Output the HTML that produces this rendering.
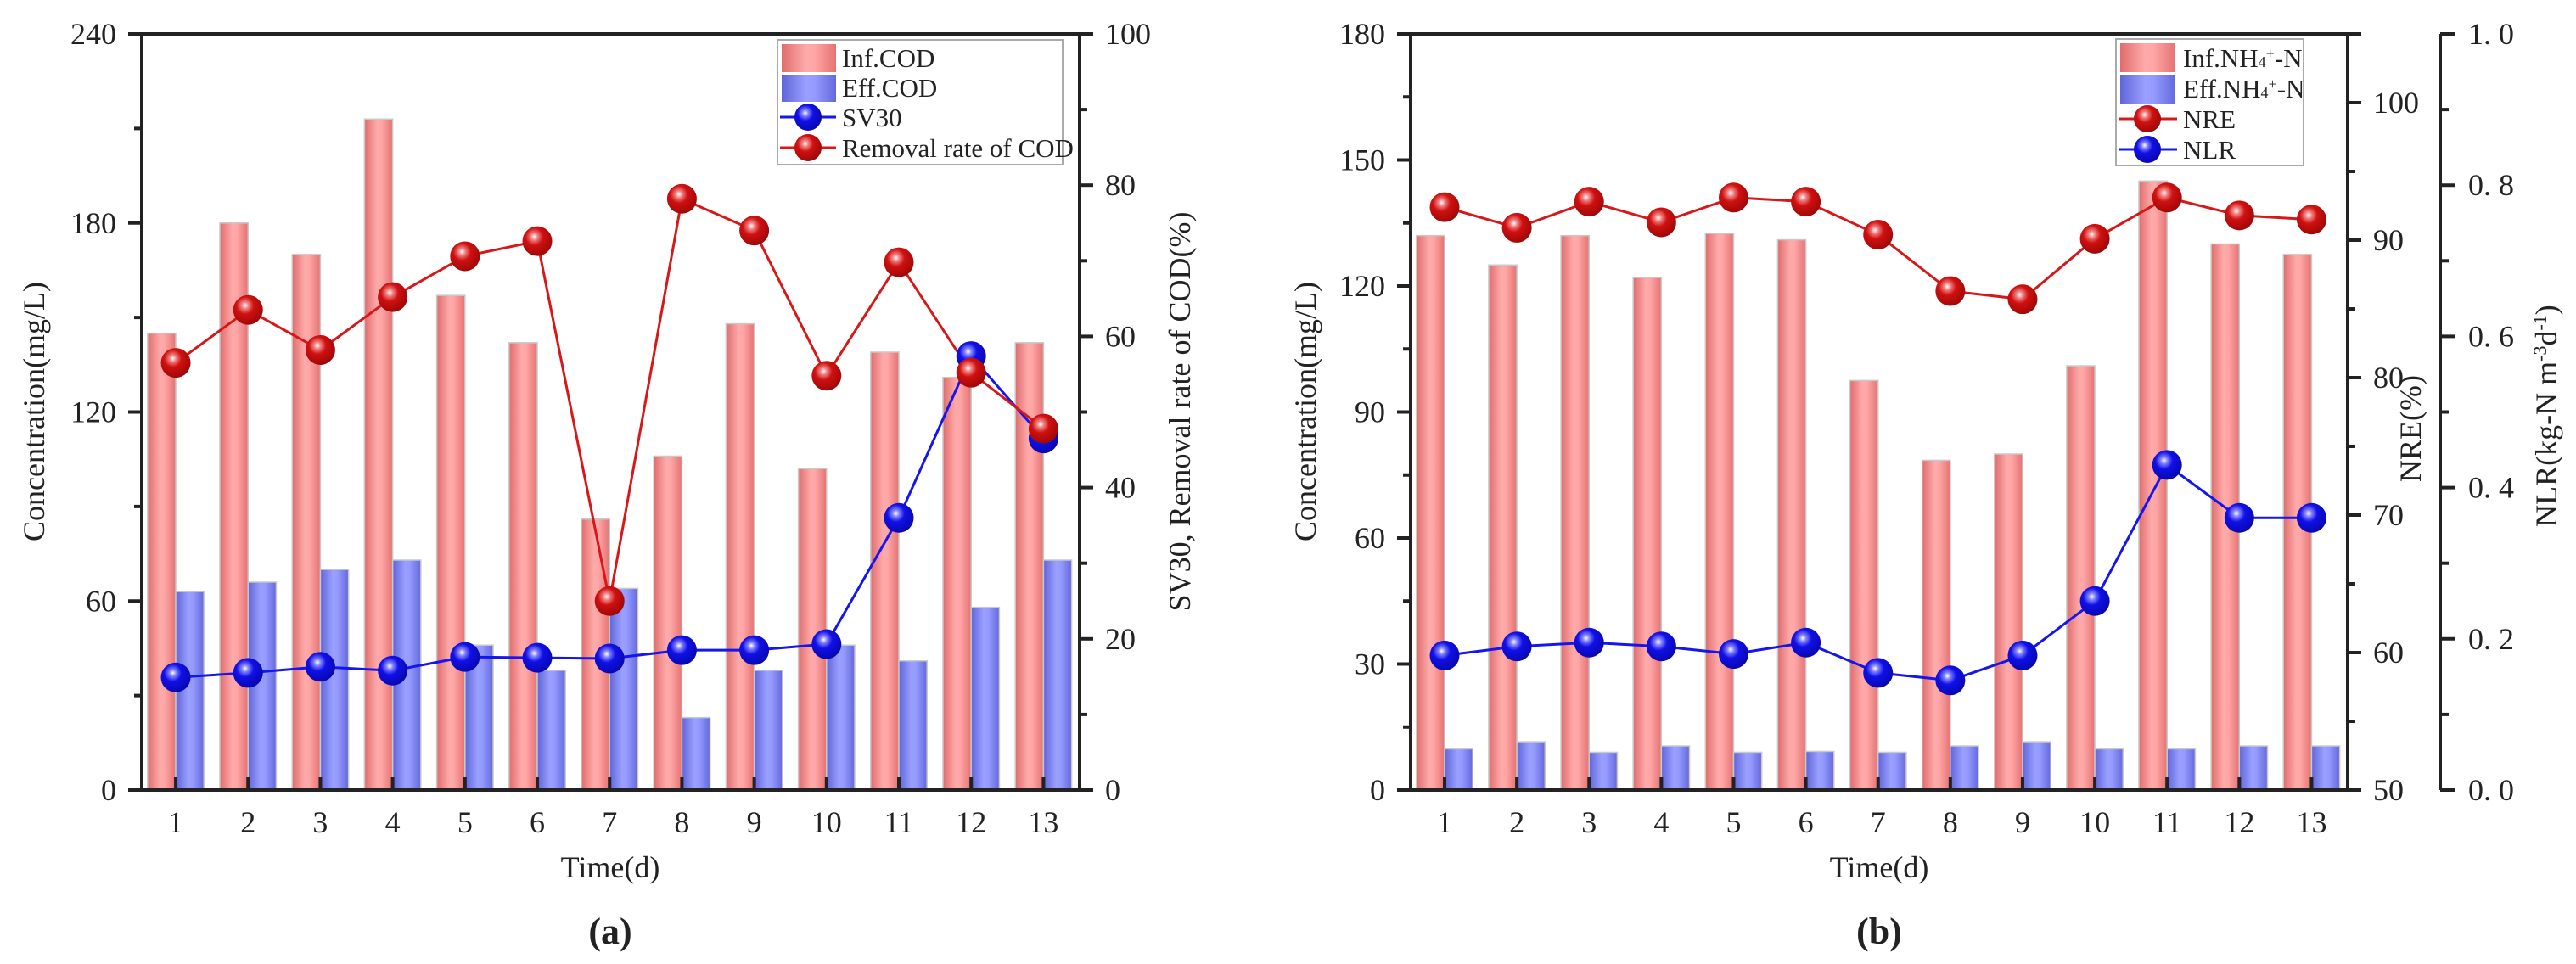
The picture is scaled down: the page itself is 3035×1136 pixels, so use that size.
<!DOCTYPE html>
<html><head><meta charset="utf-8"><style>
html,body{margin:0;padding:0;background:#fff}
svg{display:block}
text{font-family:"Liberation Serif",serif;fill:#222}
</style></head><body>
<svg id="c" width="3035" height="1136" xmlns="http://www.w3.org/2000/svg">
<defs>
<linearGradient id="gr" x1="0" x2="1" y1="0" y2="0"><stop offset="0" stop-color="#e06c6c"/><stop offset="0.45" stop-color="#ffaaaa"/><stop offset="0.6" stop-color="#ffa6a6"/><stop offset="1" stop-color="#e57272"/></linearGradient>
<linearGradient id="gb" x1="0" x2="1" y1="0" y2="0"><stop offset="0" stop-color="#5f65d8"/><stop offset="0.45" stop-color="#9aa0ff"/><stop offset="0.6" stop-color="#959bff"/><stop offset="1" stop-color="#6469dc"/></linearGradient>
<radialGradient id="sr" cx="0.4" cy="0.35" r="0.65"><stop offset="0" stop-color="#fff"/><stop offset="0.18" stop-color="#f08080"/><stop offset="0.45" stop-color="#d01010"/><stop offset="1" stop-color="#a00808"/></radialGradient>
<radialGradient id="sb" cx="0.4" cy="0.35" r="0.65"><stop offset="0" stop-color="#fff"/><stop offset="0.18" stop-color="#8080ff"/><stop offset="0.45" stop-color="#1010e8"/><stop offset="1" stop-color="#0808b0"/></radialGradient>
</defs>
</svg>
<script>
// ---- data panel (a)
const days = [1,2,3,4,5,6,7,8,9,10,11,12,13];
const infCOD = [145,180,170,213,157,142,86,106,148,102,139,131,142];
const effCOD = [63,66,70,73,46,38,64,23,38,46,41,58,73];
const sv30 = [14.9,15.5,16.3,15.8,17.6,17.5,17.4,18.5,18.5,19.3,36,57.4,46.5];
const removalCOD = [56.5,63.5,58.2,65.2,70.6,72.6,25,78.2,74,54.8,69.8,55.2,47.8];
// ---- data panel (b)
const infNH = [132,125,132,122,132.5,131,97.5,78.5,80,101,145,130,127.5];
const effNH = [9.8,11.5,9,10.5,9,9.2,9,10.5,11.5,9.8,9.8,10.5,10.5];
const nre = [92.4,90.9,92.8,91.3,93.1,92.8,90.4,86.3,85.7,90.1,93.1,91.8,91.5];
const nlr = [0.178,0.19,0.195,0.19,0.18,0.195,0.155,0.145,0.178,0.25,0.43,0.36,0.36];
const ticksA = [0,60,120,180,240];
const ticksARight = [0,20,40,60,80,100];
const ticksB = [0,30,60,90,120,150,180];
const ticksNRE = [50,60,70,80,90,100];
const ticksNLR = [0,0.2,0.4,0.6,0.8,1.0];

const svg = document.getElementById('c');
const NS = 'http://www.w3.org/2000/svg';
function mk(tag, attrs, parent){const e=document.createElementNS(NS,tag);for(const k in attrs)e.setAttribute(k,attrs[k]);(parent||svg).appendChild(e);return e;}
function txt(s,attrs,parent){const e=mk('text',attrs,parent);e.textContent=s;return e;}

const T=40,B=931,X0=0.53,X1=13.5,BW=0.39;
function lin(d0,d1,r0,r1){return v=>r0+(v-d0)/(d1-d0)*(r1-r0);}

function panel(o){
  const g=mk('g',{});
  
  
  const x=lin(X0,X1,o.L,o.R), yl=lin(o.lmin,o.lmax,B,T), yr=lin(o.rmin,o.rmax,B,T);
  // bars
  o.bar1.forEach((v,i)=>{const r=mk('rect',{x:x(days[i])-BW*(x(1)-x(0)),y:yl(v),width:BW*(x(1)-x(0)),height:B-yl(v),fill:'url(#gr)',stroke:'#c9c9c9','stroke-width':1.5},g);
    
    });
  o.bar2.forEach((v,i)=>{const r=mk('rect',{x:x(days[i]),y:yl(v),width:BW*(x(1)-x(0)),height:B-yl(v),fill:'url(#gb)',stroke:'#c9c9c9','stroke-width':1.5},g);
    
    });
  // lines
  o.lines.forEach(ln=>{
    const sc=ln.axis==='r'?yr:ln.ys;
    const p=mk('polyline',{points:ln.data.map((v,i)=>x(days[i])+','+sc(v)).join(' '),fill:'none',stroke:ln.color,'stroke-width':3},g);
    
    
  });
  o.lines.forEach(ln=>{
    const sc=ln.axis==='r'?yr:ln.ys;
    ln.data.forEach((v,i)=>{const c=mk('circle',{cx:x(days[i]),cy:sc(v),r:17.5,fill:ln.grad},g);
      
      });
  });
  // frame
  const ax=mk('g',{stroke:'#222','stroke-width':4,fill:'none'},g);
  
  
  mk('line',{x1:o.L-16,y1:T,x2:o.R+16,y2:T},ax);
  mk('line',{x1:o.L-16,y1:B,x2:o.R+16,y2:B},ax);
  mk('line',{x1:o.L,y1:T,x2:o.L,y2:B},ax);
  mk('line',{x1:o.R,y1:T,x2:o.R,y2:B},ax);
  days.forEach(d=>{mk('line',{x1:x(d),y1:B,x2:x(d),y2:B-15},ax);
    const t=txt(String(d),{x:x(d),y:B+50,'font-size':36,'text-anchor':'middle'},g);
    
    });
  // left ticks
  o.lt.forEach((v,i)=>{mk('line',{x1:o.L-16,y1:yl(v),x2:o.L,y2:yl(v)},ax);
    if(i<o.lt.length-1){const m=(v+o.lt[i+1])/2;mk('line',{x1:o.L-9,y1:yl(m),x2:o.L,y2:yl(m)},ax);}
    const t=txt(String(v),{x:o.L-30,y:yl(v)+12,'font-size':36,'text-anchor':'end'},g);
    
    });
  o.rt.forEach((v,i)=>{mk('line',{x1:o.R,y1:yr(v),x2:o.R+16,y2:yr(v)},ax);
    if(i<o.rt.length-1){const m=(v+o.rt[i+1])/2;mk('line',{x1:o.R,y1:yr(m),x2:o.R+9,y2:yr(m)},ax);}
    const t=txt(String(v),{x:o.R+30,y:yr(v)+12,'font-size':36},g);
    
    });
  return {x,yl,yr,g};
}

const A=panel({name:'panel-a',L:167,R:1272,lmin:0,lmax:240,rmin:0,rmax:100,lt:ticksA,rt:ticksARight,bar1:infCOD,bar2:effCOD,
  lines:[{name:'sv30',data:sv30,axis:'r',color:'#1515ee',grad:'url(#sb)'},{name:'removal-rate',data:removalCOD,axis:'r',color:'#d81818',grad:'url(#sr)'}]});
const ynlr=lin(0,1,B,T);
const Bp=panel({name:'panel-b',L:1662,R:2766,lmin:0,lmax:180,rmin:50,rmax:105,lt:ticksB,rt:ticksNRE,bar1:infNH,bar2:effNH,
  lines:[{name:'nre',data:nre,axis:'r',color:'#d81818',grad:'url(#sr)'},{name:'nlr',data:nlr,axis:'n',ys:ynlr,color:'#1515ee',grad:'url(#sb)'}]});

// NLR offset axis
const nax=mk('g',{stroke:'#222','stroke-width':4});


mk('line',{x1:2875,y1:T,x2:2875,y2:B},nax);
ticksNLR.forEach((v,i)=>{mk('line',{x1:2875,y1:ynlr(v),x2:2893,y2:ynlr(v)},nax);
  if(i<ticksNLR.length-1){mk('line',{x1:2875,y1:ynlr(v+0.1),x2:2885,y2:ynlr(v+0.1)},nax);}
  const t=txt(v.toFixed(1).replace('.','. '),{x:2908,y:ynlr(v)+12,'font-size':36});
  
  });
</script>
<svg width="0" height="0"></svg>
<div style="position:absolute;left:0;top:0;width:3035px;height:1136px;pointer-events:none">
<svg width="3035" height="1136" xmlns="http://www.w3.org/2000/svg">
<g font-family="Liberation Serif, serif" fill="#222" font-size="36">
<text transform="translate(52,485) rotate(-90)" text-anchor="middle">Concentration(mg/L)</text>
<text transform="translate(1402,485) rotate(-90)" text-anchor="middle">SV30, Removal rate of COD(%)</text>
<text transform="translate(1550,485) rotate(-90)" text-anchor="middle">Concentration(mg/L)</text>
<text transform="translate(2852,505) rotate(-90)" text-anchor="middle">NRE(%)</text>
<text transform="translate(3012,490) rotate(-90)" text-anchor="middle">NLR(kg-N m<tspan font-size="22" dy="-12">-3</tspan><tspan dy="12">d</tspan><tspan font-size="22" dy="-12">-1</tspan><tspan dy="12">)</tspan></text>
<text x="719" y="1034" text-anchor="middle">Time(d)</text>
<text x="2214" y="1034" text-anchor="middle">Time(d)</text>
<text x="719" y="1112" text-anchor="middle" font-size="44" font-weight="bold">(a)</text>
<text x="2214" y="1112" text-anchor="middle" font-size="44" font-weight="bold">(b)</text>
</g>
<g font-family="Liberation Serif, serif" font-size="31" fill="#222">
<rect x="916" y="47" width="336" height="147" fill="#fff" stroke="#aaa" stroke-width="2"/>
<rect x="921" y="52" width="64" height="33" fill="url(#gr)"/>
<text x="992" y="79">Inf.COD</text>
<rect x="921" y="88" width="64" height="32" fill="url(#gb)"/>
<text x="992" y="114">Eff.COD</text>
<line x1="919" y1="138" x2="985" y2="138" stroke="#1515ee" stroke-width="3"/><circle cx="952" cy="138" r="16" fill="url(#sb)"/>
<text x="992" y="149">SV30</text>
<line x1="919" y1="174" x2="985" y2="174" stroke="#d81818" stroke-width="3"/><circle cx="952" cy="174" r="16" fill="url(#sr)"/>
<text x="992" y="185">Removal rate of  COD</text>
</g>
<g font-family="Liberation Serif, serif" font-size="31" fill="#222">
<rect x="2493" y="46" width="221" height="149" fill="#fff" stroke="#aaa" stroke-width="2"/>
<rect x="2498" y="51" width="65" height="34" fill="url(#gr)"/>
<text x="2572" y="79">Inf.NH<tspan font-size="18">4</tspan><tspan font-size="18" dy="-10">+</tspan><tspan dy="10">-N</tspan></text>
<rect x="2498" y="88" width="65" height="34" fill="url(#gb)"/>
<text x="2572" y="115">Eff.NH<tspan font-size="18">4</tspan><tspan font-size="18" dy="-10">+</tspan><tspan dy="10">-N</tspan></text>
<line x1="2496" y1="140" x2="2565" y2="140" stroke="#d81818" stroke-width="3"/><circle cx="2530" cy="140" r="16" fill="url(#sr)"/>
<text x="2572" y="151">NRE</text>
<line x1="2496" y1="176" x2="2565" y2="176" stroke="#1515ee" stroke-width="3"/><circle cx="2530" cy="176" r="16" fill="url(#sb)"/>
<text x="2572" y="187">NLR</text>
</g>
</svg></div>
</body></html>
